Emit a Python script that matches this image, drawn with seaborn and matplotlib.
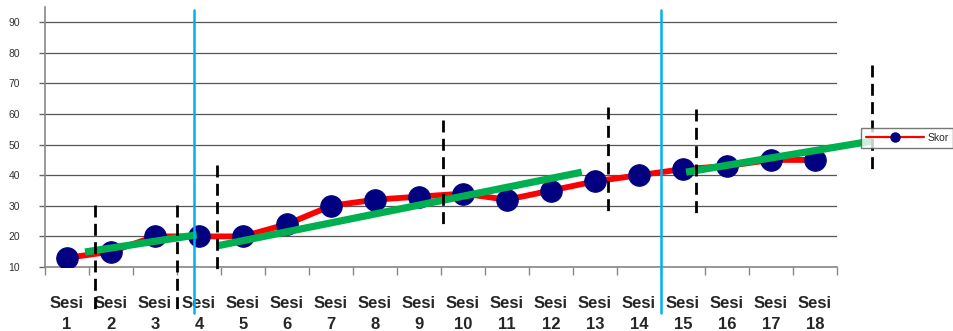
import matplotlib
matplotlib.use("Agg")
import matplotlib.pyplot as plt
from matplotlib.lines import Line2D
import seaborn as sns
import pandas as pd

# Session scores
sessions = [f"Sesi\n{i}" for i in range(1, 19)]
scores = [13, 15, 20, 20, 20, 24, 30, 32, 33, 34, 32, 35, 38, 40, 42, 43, 45, 45]
y_ticks = [10, 20, 30, 40, 50, 60, 70, 80, 90]

# Phase boundaries (x in session-index units, y span in score units)
phase_x = [2.89, 13.5]
phase_y = (-5, 94)

# Dashed markers: x, y_bottom, y_top
dash_x = [0.64, 2.5, 3.41, 8.55, 12.3, 14.3, 18.3]
dash_lo = [-5, -5, 9, 23, 27.6, 27, 41]
dash_hi = [30.3, 30.3, 43.3, 58, 62.3, 61.6, 76]

# Trend segments per phase: (x0, x1), (y0, y1)
trend_x = [(0.41, 2.95), (3.41, 11.7), (14.07, 18.3)]
trend_y = [(14.9, 20.5), (16.9, 41.0), (41.0, 51.2)]

df = pd.DataFrame({"idx": range(len(scores)), "Skor": scores})

sns.set_style("white")
fig = plt.figure(figsize=(9.54, 3.31), dpi=100)
ax = fig.add_axes([45 / 954, 1 - 267 / 331, (837 - 45) / 954, (267 - 7) / 331])

for y in y_ticks:
    ax.axhline(y, color="#555555", lw=0.9, zorder=1)

sns.lineplot(data=df, x="idx", y="Skor", ax=ax, color="#FF0000", lw=4.2,
             marker="o", markersize=15.5, markerfacecolor="#000080",
             markeredgecolor="#000080", zorder=3)

for (x0, x1), (y0, y1) in zip(trend_x, trend_y):
    ax.plot([x0, x1], [y0, y1], color="#00B050", lw=5.2, solid_capstyle="butt",
            zorder=4, clip_on=False)

for x in phase_x:
    ax.plot([x, x], list(phase_y), color="#00B0F0", lw=1.8, zorder=5, clip_on=False)

for x, lo, hi in zip(dash_x, dash_lo, dash_hi):
    ax.plot([x, x], [hi, lo], color="black", lw=2.0, ls=(0, (4.3, 2.3)),
            zorder=6, clip_on=False)

ax.set_xlim(-0.5, 17.5)
ax.set_ylim(10, 95)
ax.set_xticks(range(len(sessions)))
ax.set_xticklabels(sessions, fontsize=12, fontweight="bold",
                   family="Liberation Sans", linespacing=1.5)
ax.set_xticks([i - 0.5 for i in range(len(sessions) + 1)], minor=True)
ax.tick_params(axis="x", which="major", length=0, pad=21)
ax.tick_params(axis="x", which="minor", length=6, width=1, color="#888888",
               direction="out", bottom=True)
ax.set_yticks(y_ticks)
ax.set_yticklabels([str(v) for v in y_ticks], fontsize=7.5, color="#333333",
                   family="Liberation Sans")
ax.tick_params(axis="y", length=4, width=1, color="#666666", direction="out",
               left=True, pad=14)
ax.set_xlabel("")
ax.set_ylabel("")

for side in ["top", "right"]:
    ax.spines[side].set_visible(False)
for side in ["left", "bottom"]:
    ax.spines[side].set_color("#888888")
    ax.spines[side].set_linewidth(1.2)

handle = Line2D([], [], color="#FF0000", lw=1.6, marker="o", markersize=6.5,
                markerfacecolor="#000080", markeredgecolor="#000080")
leg = fig.legend([handle], ["Skor"], loc="center left",
                 bbox_to_anchor=(861 / 954, 1 - 138 / 331), fontsize=7.5,
                 handlelength=5.6, fancybox=False, frameon=True,
                 borderpad=0.45, handletextpad=0.3, borderaxespad=0)
leg.get_frame().set_edgecolor("#555555")
leg.get_frame().set_linewidth(1.0)
for t in leg.get_texts():
    t.set_family("Liberation Sans")

fig.savefig("out.png", dpi=100)
